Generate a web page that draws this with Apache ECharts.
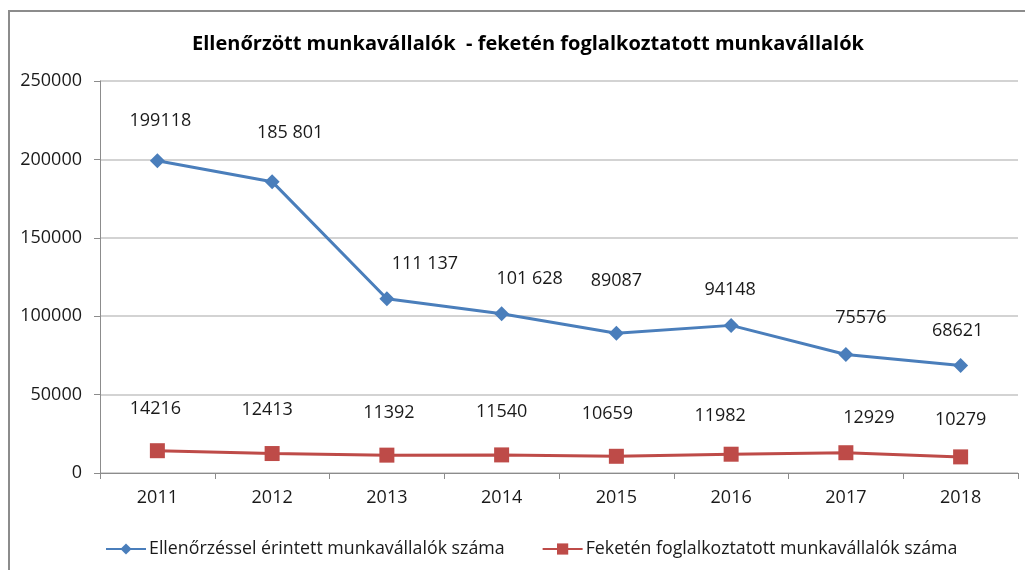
<!DOCTYPE html>
<html>
<head>
<meta charset="utf-8">
<script src="https://cdn.jsdelivr.net/npm/echarts@6/dist/echarts.min.js"></script>
<style>
html,body{margin:0;padding:0;background:#fff;}
#chart{width:1025px;height:570px;}
</style>
</head>
<body>
<div id="chart"></div>
<script>
var titleText = 'Ellenőrzött munkavállalók  - feketén foglalkoztatott munkavállalók';
var years = ['2011','2012','2013','2014','2015','2016','2017','2018'];
var seriesNames = ['Ellenőrzéssel érintett munkavállalók száma', 'Feketén foglalkoztatott munkavállalók száma'];
var checkedValues = [199118, 185801, 111137, 101628, 89087, 94148, 75576, 68621];
var checkedLabels = ['199118', '185 801', '111 137', '101 628', '89087', '94148', '75576', '68621'];
var blackValues = [14216, 12413, 11392, 11540, 10659, 11982, 12929, 10279];
var blackLabels = ['14216', '12413', '11392', '11540', '10659', '11982', '12929', '10279'];
var yTicks = [0, 50000, 100000, 150000, 200000, 250000];

var FONT = '"Open Sans", sans-serif';
var BLUE = '#4A7EBB';
var RED = '#BE4B48';

// label placement (style only)
var checkedOffsets = [[3,-23],[18,-32],[38,-18],[28,-18],[0,-36],[-1,-19],[15,-20],[-3,-18]];
var blackOffsets = [[-2,-25],[-5,-27],[2,-26],[0,-27],[-9,-26],[-11,-22],[23,-18],[0,-21]];

function buildData(values, labels, offsets) {
  return values.map(function (v, i) {
    return {
      value: v,
      label: { formatter: labels[i], offset: offsets[i] }
    };
  });
}

var chart = echarts.init(document.getElementById('chart'), null, {renderer: 'canvas'});
var option = {
  animation: false,
  backgroundColor: '#fff',
  textStyle: { fontFamily: FONT },
  title: {
    text: titleText,
    left: 523,
    textAlign: 'center',
    top: 29,
    textStyle: { fontFamily: FONT, fontSize: 20, fontWeight: 'bold', color: '#000' }
  },
  graphic: [{
    type: 'rect',
    shape: { x: 9, y: 11, width: 1040, height: 600 },
    style: { fill: 'none', stroke: '#8c8c8c', lineWidth: 2 },
    silent: true,
    z: 100
  }],
  legend: {
    left: 100,
    top: 535,
    itemWidth: 40,
    itemHeight: 14,
    itemGap: 37,
    textStyle: { fontFamily: FONT, fontSize: 17.8, color: '#1a1a1a', padding: [0,0,0,-2] },
    data: seriesNames
  },
  grid: { left: 100, right: 7, top: 81, bottom: 97, containLabel: false },
  xAxis: {
    type: 'category',
    data: years,
    boundaryGap: true,
    axisLine: { show: true, lineStyle: { color: '#8c8c8c', width: 1 } },
    axisTick: { show: true, length: 6, lineStyle: { color: '#8c8c8c' } },
    axisLabel: { margin: 16, fontFamily: FONT, fontSize: 18, color: '#1a1a1a' },
    splitLine: { show: false }
  },
  yAxis: {
    type: 'value',
    min: yTicks[0],
    max: yTicks[yTicks.length - 1],
    interval: yTicks[1] - yTicks[0],
    axisLine: { show: true, lineStyle: { color: '#8c8c8c', width: 1 } },
    axisTick: { show: true, length: 6, lineStyle: { color: '#8c8c8c' } },
    axisLabel: { margin: 18, fontFamily: FONT, fontSize: 18, color: '#1a1a1a', formatter: function (v) { return String(v); } },
    splitLine: { show: true, lineStyle: { color: '#c4c4c4', width: 1.5 } }
  },
  series: [{
    name: seriesNames[0],
    type: 'line',
    data: buildData(checkedValues, checkedLabels, checkedOffsets),
    symbol: 'diamond',
    symbolSize: 15,
    lineStyle: { color: BLUE, width: 3 },
    itemStyle: { color: BLUE },
    label: { show: true, position: 'top', distance: 0, fontFamily: FONT, fontSize: 18, color: '#1a1a1a' },
    z: 3
  }, {
    name: seriesNames[1],
    type: 'line',
    data: buildData(blackValues, blackLabels, blackOffsets),
    symbol: 'rect',
    symbolSize: 15,
    lineStyle: { color: RED, width: 3 },
    itemStyle: { color: RED },
    label: { show: true, position: 'top', distance: 0, fontFamily: FONT, fontSize: 18, color: '#1a1a1a' },
    z: 3
  }]
};
chart.setOption(option);
</script>
</body>
</html>
